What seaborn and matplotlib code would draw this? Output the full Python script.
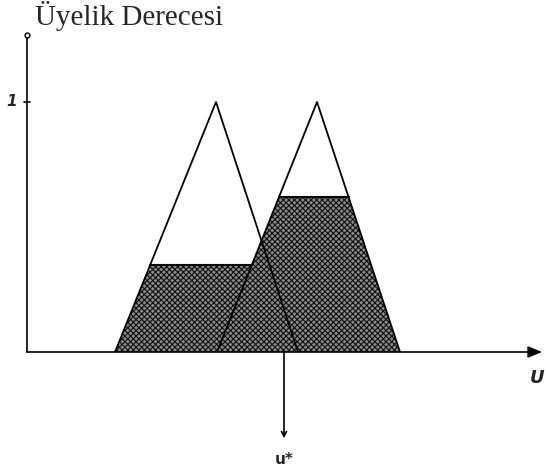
import numpy as np
import matplotlib
matplotlib.use("Agg")
import matplotlib.pyplot as plt
import seaborn as sns
import pandas as pd

# Membership functions (left foot, peak, right foot) in universe units
tri1 = [0.88, 1.89, 2.71]
tri2 = [1.90, 2.90, 3.73]
clip_levels = [0.35, 0.62]
u_star = 2.57
y_tick_labels = ["1"]
y_label = "Üyelik Derecesi"
x_label = "U"
ustar_label = "u*"

sns.set_style("white")
plt.rcParams['font.family'] = ['DejaVu Sans']

fig = plt.figure(figsize=(5.46, 4.72), dpi=100)
ax = fig.add_axes([27/546, 120/472, 519/546, 325/472])
ax.set_xlim(0, 5.19)
ax.set_ylim(0, 1.3)
ax.axis("off")

def tri_mu(x, t):
    a, b, c = t
    return np.clip(np.minimum((x - a) / (b - a), (c - x) / (c - b)), 0, 1)

xs = np.linspace(0, 5, 2001)
mu1 = np.minimum(tri_mu(xs, tri1), clip_levels[0])
mu2 = np.minimum(tri_mu(xs, tri2), clip_levels[1])
agg = np.maximum(mu1, mu2)

plt.rcParams['hatch.linewidth'] = 0.8
ax.fill_between(xs, 0, agg, where=agg > 0, facecolor="#8a8a8a",
                edgecolor="#111111", hatch="xxxxxx", linewidth=0, zorder=1)

# Triangle outlines
for t in (tri1, tri2):
    df = pd.DataFrame({"x": t, "y": [0, 1, 0]})
    sns.lineplot(data=df, x="x", y="y", ax=ax, color="black", linewidth=1.3,
                 sort=False, estimator=None, zorder=3)

# clip lines
a1, b1, c1 = tri1
a2, b2, c2 = tri2
x1l = a1 + clip_levels[0] * (b1 - a1)
x1r = a2 + clip_levels[0] * (b2 - a2)
ax.plot([x1l, x1r], [clip_levels[0]] * 2, color="black", lw=1.5, zorder=3)
x2l = a2 + clip_levels[1] * (b2 - a2)
x2r = c2 - clip_levels[1] * (c2 - b2)
ax.plot([x2l, x2r], [clip_levels[1]] * 2, color="black", lw=1.5, zorder=3)

# Axes
ax.annotate("", xy=(5.15, 0), xytext=(0, 0),
            arrowprops=dict(arrowstyle="-|>,head_length=0.6,head_width=0.25",
                            color="black", lw=1.2,
                            mutation_scale=14, shrinkA=0, shrinkB=0),
            annotation_clip=False, zorder=4)
ax.plot([0, 0], [0, 1.27], color="black", lw=1.2, zorder=4, clip_on=False)
ax.plot([0], [1.27], marker="o", ms=3.5, mfc="white", mec="black", mew=1,
        clip_on=False, zorder=5)
ax.plot([-0.03, 0.03], [1, 1], color="black", lw=1.2, clip_on=False)
ax.text(-0.1, 1, y_tick_labels[0], ha="right", va="center", fontsize=11,
        fontstyle="italic", fontweight="bold")

# u* arrow
ax.annotate("", xy=(u_star, -0.345), xytext=(u_star, 0),
            arrowprops=dict(arrowstyle="->", color="black", lw=1.2,
                            mutation_scale=9, shrinkA=0, shrinkB=0),
            annotation_clip=False)
ax.text(u_star, -0.43, ustar_label, ha="center", va="center", fontsize=11,
        fontweight="bold", clip_on=False)
ax.text(5.1, -0.105, x_label, ha="center", va="center", fontsize=13,
        fontstyle="italic", fontweight="bold", clip_on=False)

fig.text(35/546, 1 - 16/472, y_label, ha="left", va="center", fontsize=21,
         family="Liberation Serif")

fig.savefig("out.png", dpi=100)
